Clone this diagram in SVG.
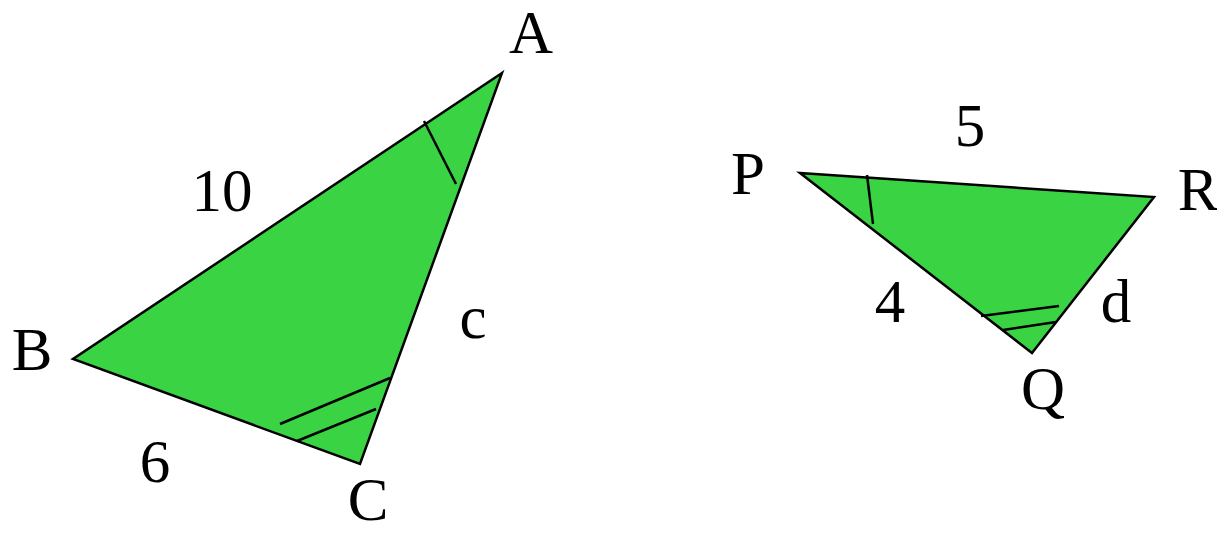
<svg xmlns="http://www.w3.org/2000/svg" width="1217" height="534" viewBox="0 0 1217 534">
<style>
.tri{fill:#3ad344;stroke:#000;stroke-width:2.5;stroke-linejoin:miter}
.mark{stroke:#000;stroke-width:2.5;fill:none}
.lbl{font-family:'Liberation Serif',Tinos,'Times New Roman',Times,serif;font-size:61px;fill:#000;text-anchor:middle}
</style>
<rect width="1217" height="534" fill="#fff"/>
<g id="triangleABC">
<polygon class="tri" points="502,73 73,359 360,464"/>
<line class="mark" x1="424" y1="121" x2="456" y2="184"/>
<line class="mark" x1="280" y1="424" x2="390" y2="378"/>
<line class="mark" x1="297" y1="441" x2="376" y2="409"/>
</g>
<g id="trianglePQR">
<polygon class="tri" points="800,173 1154,197 1032,353"/>
<line class="mark" x1="867" y1="175" x2="873" y2="224"/>
<line class="mark" x1="981" y1="316" x2="1059" y2="306"/>
<line class="mark" x1="1003" y1="330" x2="1056" y2="322"/>
</g>
<g id="labels">
<text class="lbl" x="531" y="53">A</text>
<text class="lbl" x="222" y="211">10</text>
<text class="lbl" x="32" y="370">B</text>
<text class="lbl" x="155" y="482">6</text>
<text class="lbl" x="368" y="520">C</text>
<text class="lbl" x="473" y="338">c</text>
<text class="lbl" x="970" y="146">5</text>
<text class="lbl" x="748" y="194">P</text>
<text class="lbl" x="1198" y="210">R</text>
<text class="lbl" x="890" y="322">4</text>
<text class="lbl" x="1116" y="322">d</text>
<text class="lbl" x="1043" y="409">Q</text>
</g>
</svg>
